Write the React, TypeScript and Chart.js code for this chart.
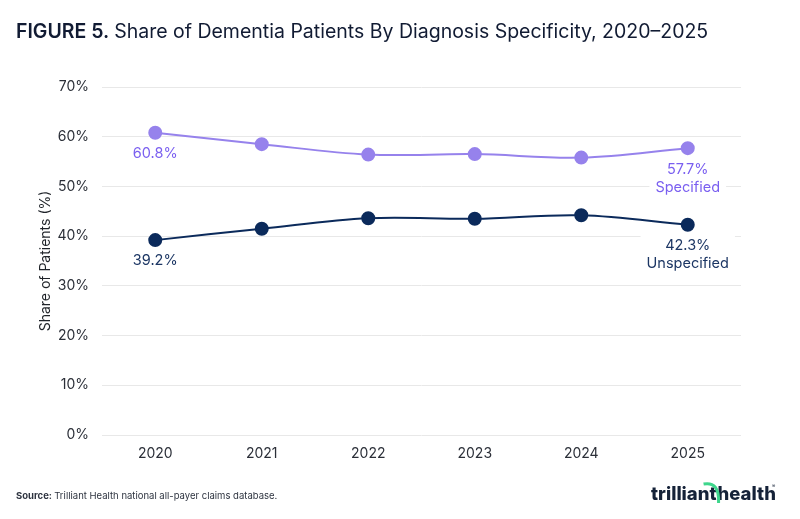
import React, { useEffect, useRef } from "react";
import { Chart, registerables } from "chart.js";

Chart.register(...registerables);

// Chart data
const years = ["2020", "2021", "2022", "2023", "2024", "2025"];
const specified = [60.8, 58.5, 56.4, 56.5, 55.8, 57.7];
const unspecified = [39.2, 41.5, 43.6, 43.5, 44.2, 42.3];
const seriesNames = ["Specified", "Unspecified"];
const yMin = 0;
const yMax = 70;
const yStep = 10;

const FONT = "Inter, 'Noto Sans', sans-serif";
const SPEC_LINE = "#9682ec";
const SPEC_TEXT = "#7a5ff0";
const UNSPEC_LINE = "#0b2a5b";
const UNSPEC_TEXT = "#1c3664";
const INK = "#111b33";

// Value labels under the first point, value + series name under the last
const pointLabels = {
  id: "pointLabels",
  afterDatasetsDraw(chart: Chart) {
    const ctx = chart.ctx;
    ctx.save();
    ctx.font = `14.5px ${FONT}`;
    ctx.textAlign = "center";
    ctx.textBaseline = "middle";
    chart.data.datasets.forEach((ds, di) => {
      const meta = chart.getDatasetMeta(di);
      const color = di === 0 ? SPEC_TEXT : UNSPEC_TEXT;
      const vals = ds.data as number[];
      const first = meta.data[0];
      const last = meta.data[vals.length - 1];
      ctx.fillStyle = color;
      ctx.fillText(`${vals[0].toFixed(1)}%`, first.x, first.y + 21);
      const lines = [`${vals[vals.length - 1].toFixed(1)}%`, seriesNames[di]];
      const w = Math.max(...lines.map((l) => ctx.measureText(l).width)) + 12;
      ctx.fillStyle = "#ffffff";
      ctx.fillRect(last.x - w / 2, last.y + 11, w, 38);
      ctx.fillStyle = color;
      ctx.fillText(lines[0], last.x, last.y + 21);
      ctx.fillText(lines[1], last.x, last.y + 39);
    });
    ctx.restore();
  },
};

// Heading, source note and wordmark
const frame = {
  id: "frame",
  afterDraw(chart: Chart) {
    const ctx = chart.ctx;
    ctx.save();
    ctx.textBaseline = "alphabetic";
    ctx.textAlign = "left";
    ctx.fillStyle = INK;
    ctx.font = `600 19.5px ${FONT}`;
    const bold = "FIGURE 5.";
    ctx.fillText(bold, 16, 38);
    const bw = ctx.measureText(bold + " ").width;
    ctx.font = `400 19.5px ${FONT}`;
    ctx.fillText("Share of Dementia Patients By Diagnosis Specificity, 2020–2025", 16 + bw, 38);

    ctx.fillStyle = "#2e3440";
    ctx.font = `700 9.5px ${FONT}`;
    const src = "Source:";
    ctx.fillText(src, 16, 499);
    const sw = ctx.measureText(src + " ").width;
    ctx.font = `400 9.5px ${FONT}`;
    ctx.fillText("Trilliant Health national all-payer claims database.", 16 + sw, 499);

    // wordmark
    ctx.fillStyle = "#152238";
    ctx.font = `800 18.5px ${FONT}`;
    const a = "trilliant";
    const ax = 651;
    ctx.fillText(a, ax, 500);
    const aw = ctx.measureText(a).width;
    const hx = ax + aw + 1;
    ctx.fillText("health", hx, 500);
    ctx.strokeStyle = "#3ed68c";
    ctx.lineWidth = 3;
    ctx.beginPath();
    ctx.moveTo(hx - 14, 484);
    ctx.quadraticCurveTo(hx + 2, 481, hx + 1, 503);
    ctx.stroke();
    ctx.font = `400 5px ${FONT}`;
    ctx.fillText("®", 772, 488);
    ctx.restore();
  },
};

export default function App() {
  const ref = useRef<HTMLCanvasElement | null>(null);

  useEffect(() => {
    document.body.style.margin = "0";
    const canvas = ref.current;
    if (!canvas) return;
    const chart = new Chart(canvas, {
      type: "line",
      data: {
        labels: years,
        datasets: [
          {
            label: seriesNames[0],
            data: specified,
            borderColor: SPEC_LINE,
            backgroundColor: SPEC_LINE,
            pointBackgroundColor: SPEC_LINE,
            pointBorderColor: SPEC_LINE,
            borderWidth: 2,
            pointRadius: 6,
            tension: 0.35,
          },
          {
            label: seriesNames[1],
            data: unspecified,
            borderColor: UNSPEC_LINE,
            backgroundColor: UNSPEC_LINE,
            pointBackgroundColor: UNSPEC_LINE,
            pointBorderColor: UNSPEC_LINE,
            borderWidth: 2,
            pointRadius: 6,
            tension: 0.35,
          },
        ],
      },
      options: {
        responsive: false,
        animation: false,
        layout: { padding: { left: 37, right: 59, top: 87, bottom: 54 } },
        plugins: {
          legend: { display: false },
          title: { display: false },
          tooltip: { enabled: false },
        },
        scales: {
          x: {
            offset: true,
            grid: { display: false, drawTicks: false },
            border: { display: false },
            ticks: {
              color: "#2b2f38",
              font: { family: FONT, size: 14 },
              padding: 10,
            },
            afterFit(scale: any) {
              scale.height = 30;
            },
          },
          y: {
            min: yMin,
            max: yMax,
            grid: { color: "#e8e8e8", drawTicks: false, lineWidth: 1 },
            border: { display: false },
            ticks: {
              stepSize: yStep,
              color: "#2b2f38",
              font: { family: FONT, size: 14 },
              padding: 13,
              callback: (v: any) => `${v}%`,
            },
            title: {
              display: true,
              text: "Share of Patients (%)",
              color: "#1f2329",
              font: { family: FONT, size: 14 },
              padding: { top: 0, bottom: 0 },
            },
            afterFit(scale: any) {
              scale.width = 65;
            },
          },
        },
      },
      plugins: [pointLabels, frame],
    });
    return () => chart.destroy();
  }, []);

  return <canvas ref={ref} width={800} height={519} style={{ display: "block" }} />;
}
